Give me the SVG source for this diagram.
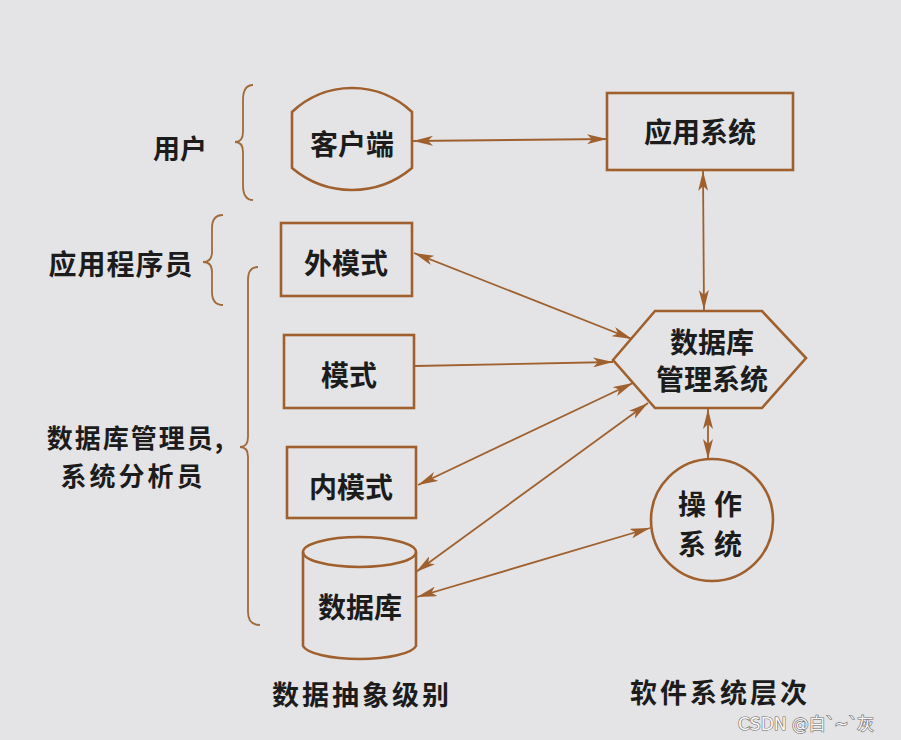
<svg xmlns="http://www.w3.org/2000/svg" width="901" height="740" viewBox="0 0 901 740">
<style>
.bg{fill:#e4e4e6}
.shape{fill:none;stroke:#a0602e;stroke-width:2.6}
.brace{fill:none;stroke:#a06a3a;stroke-width:1.8}
.conn{fill:none;stroke:#a0602e;stroke-width:1.8}
text{font-family:"Noto Sans CJK SC","Noto Sans",sans-serif;fill:#1c1c1c;font-weight:700;text-anchor:middle;dominant-baseline:central}
.t{font-size:28px}
.lab{font-size:27px}
.wm{font-family:"DejaVu Sans","Noto Sans CJK SC",sans-serif;font-size:17px;font-weight:400;fill:#f8f8f8;stroke:#6a6a6a;stroke-width:1.2;paint-order:stroke;text-anchor:start}
</style>
<defs>
<marker id="ah" viewBox="0 0 20 10" refX="20" refY="5" markerWidth="20" markerHeight="10" markerUnits="userSpaceOnUse" orient="auto-start-reverse">
<path d="M0,0 L20,5 L0,10 L5,5 Z" fill="#a0602e"/>
</marker>
</defs>
<rect class="bg" x="0" y="0" width="901" height="740"/>

<g id="braces">
<path class="brace" d="M253,85 Q243,85 243,100 L243,132 Q243,142 235,142 Q243,142 243,152 L243,185 Q243,200 253,200"/>
<path class="brace" d="M223,215 Q212,215 212,228 L212,252 Q212,262 203,262 Q212,262 212,272 L212,292 Q212,305 223,305"/>
<path class="brace" d="M258,267 Q248,267 248,280 L248,437 Q248,447 240,447 Q248,447 248,457 L248,612 Q248,625 260,625"/>
</g>

<g id="labels">
<text class="lab" x="180" y="147">用户</text>
<text class="lab" x="121" y="263" style="font-size:28px;letter-spacing:1px">应用程序员</text>
<text class="lab" x="136" y="436" style="font-size:26px;letter-spacing:2px">数据库管理员,</text>
<text class="lab" x="133" y="474" style="font-size:26px;letter-spacing:3px">系统分析员</text>
<text class="lab" x="362" y="693" style="letter-spacing:3px">数据抽象级别</text>
<text class="lab" x="720" y="691" style="letter-spacing:3px">软件系统层次</text>
</g>

<g id="client">
<path class="shape" d="M292,112 A87,87 0 0 1 412,112 L412,168 A93,93 0 0 1 292,168 Z"/>
<text class="t" x="352" y="143">客户端</text>
</g>
<g id="appsys">
<rect class="shape" x="607" y="93" width="186" height="77"/>
<text class="t" x="700" y="131">应用系统</text>
</g>
<g id="external">
<rect class="shape" x="281" y="223" width="131" height="73"/>
<text class="t" x="346" y="262">外模式</text>
</g>
<g id="schema">
<rect class="shape" x="284" y="335" width="130" height="73"/>
<text class="t" x="349" y="374">模式</text>
</g>
<g id="internal">
<rect class="shape" x="287" y="447" width="129" height="71"/>
<text class="t" x="351" y="486">内模式</text>
</g>
<g id="database">
<path class="shape" d="M303,552 L303,646 A57,15 0 0 0 416,646 L416,552"/>
<ellipse class="shape" cx="359.5" cy="552" rx="56.5" ry="15"/>
<text class="t" x="360" y="606">数据库</text>
</g>
<g id="dbms">
<polygon class="shape" points="613,360 655,311 762,311 806,358 762,408 655,408"/>
<text class="t" x="712" y="341">数据库</text>
<text class="t" x="712" y="378">管理系统</text>
</g>
<g id="os">
<circle class="shape" cx="712" cy="520" r="61"/>
<text class="t" x="714" y="503" style="letter-spacing:8px">操作</text>
<text class="t" x="714" y="543" style="letter-spacing:8px">系统</text>
</g>

<g id="connectors">
<line class="conn" x1="413" y1="141" x2="607" y2="139" marker-start="url(#ah)" marker-end="url(#ah)"/>
<line class="conn" x1="703" y1="171" x2="704" y2="310" marker-start="url(#ah)" marker-end="url(#ah)"/>
<line class="conn" x1="414" y1="253" x2="632" y2="339" marker-start="url(#ah)" marker-end="url(#ah)"/>
<line class="conn" x1="415" y1="366" x2="613" y2="362" marker-end="url(#ah)"/>
<line class="conn" x1="633" y1="383" x2="418" y2="485" marker-start="url(#ah)" marker-end="url(#ah)"/>
<line class="conn" x1="648" y1="403" x2="416" y2="572" marker-start="url(#ah)" marker-end="url(#ah)"/>
<line class="conn" x1="650" y1="528" x2="417" y2="597" marker-start="url(#ah)" marker-end="url(#ah)"/>
<line class="conn" x1="708" y1="409" x2="708" y2="459" marker-start="url(#ah)" marker-end="url(#ah)"/>
</g>

<text class="wm" x="738" y="730" style="dominant-baseline:auto">CSDN @白`~`灰</text>
</svg>
